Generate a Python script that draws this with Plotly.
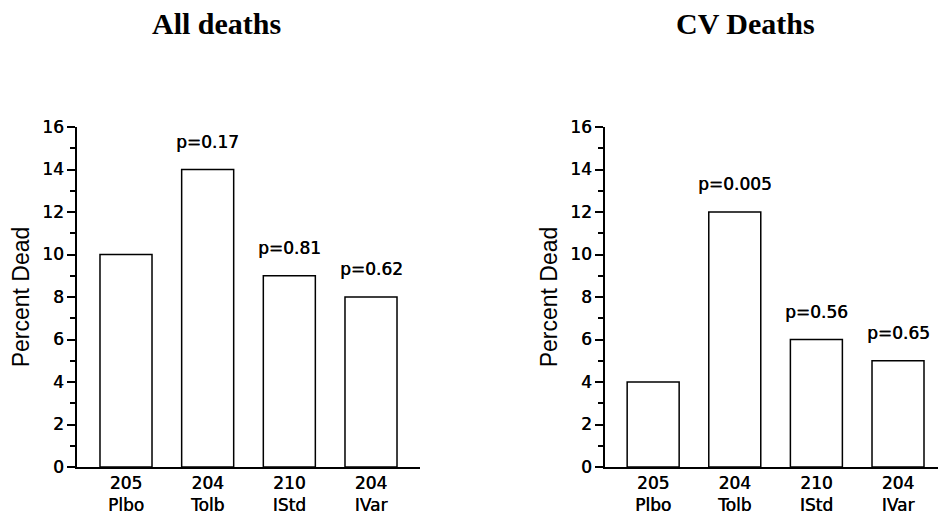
import plotly.graph_objects as go

groups = ["Plbo", "Tolb", "IStd", "IVar"]
n_patients = [205, 204, 210, 204]
all_deaths = [10, 14, 9, 8]
cv_deaths = [4, 12, 6, 5]
p_all = ["", "p=0.17", "p=0.81", "p=0.62"]
p_cv = ["", "p=0.005", "p=0.56", "p=0.65"]
titles = ["All deaths", "CV Deaths"]
y_title = "Percent Dead"

W, H = 938, 516
xpos = list(range(len(groups)))
ticktext = [f"{n}<br>{g}" for n, g in zip(n_patients, groups)]

fig = go.Figure()
for i, vals in enumerate([all_deaths, cv_deaths]):
    fig.add_trace(go.Bar(
        x=xpos, y=vals, width=0.637,
        marker=dict(color="white", line=dict(color="black", width=1.5)),
        xaxis="x" if i == 0 else "x2", yaxis="y" if i == 0 else "y2",
        showlegend=False, hoverinfo="skip",
    ))

tickfont = dict(family="DejaVu Sans", size=17, color="black", shadow="0.4px 0 0 black")
ydom = [1 - 467 / H, 1 - 127 / H]
common_x = dict(
    tickmode="array", tickvals=xpos, ticktext=ticktext, tickfont=tickfont,
    showline=True, linecolor="black", linewidth=1.5, ticks="", showgrid=False,
    zeroline=False, fixedrange=True, automargin=False,
)
common_y = dict(
    range=[0, 16], tickmode="linear", tick0=0, dtick=2, tickfont=tickfont,
    showline=True, linecolor="black", linewidth=1.5, ticks="outside",
    ticklen=8, tickwidth=1.5, tickcolor="black", showgrid=False, zeroline=False,
    minor=dict(dtick=1, ticks="outside", ticklen=5, tickwidth=1.5, tickcolor="black", showgrid=False),
    title=dict(text=y_title, font=dict(family="Liberation Sans", size=23, color="black"), standoff=6),
    domain=ydom, fixedrange=True, automargin=False,
)

fig.update_layout(
    width=W, height=H,
    margin=dict(l=0, r=0, t=0, b=0, autoexpand=False),
    paper_bgcolor="white", plot_bgcolor="white",
    xaxis=dict(common_x, domain=[77 / W, 420 / W], range=[-0.6, 3.6], anchor="y"),
    yaxis=dict(common_y, anchor="x"),
    xaxis2=dict(common_x, domain=[605 / W, 1.0], range=[-0.59, 3.49], anchor="y2"),
    yaxis2=dict(common_y, anchor="x2"),
)

annotations = []
for axn, vals, ps in [("", all_deaths, p_all), ("2", cv_deaths, p_cv)]:
    for x, v, p in zip(xpos, vals, ps):
        if p:
            annotations.append(dict(
                x=x, y=v, xref="x" + axn, yref="y" + axn, text=p, showarrow=False,
                yanchor="middle", yshift=28,
                font=dict(family="DejaVu Sans", size=17, color="black", shadow="0.4px 0 0 black"),
            ))
for t, cx in zip(titles, [216.5, 745.5]):
    annotations.append(dict(
        x=cx / W, y=1 - 24 / H, xref="paper", yref="paper", text=f"<b>{t}</b>",
        showarrow=False, xanchor="center", yanchor="middle",
        font=dict(family="Liberation Serif", size=30, color="black"),
    ))
fig.update_layout(annotations=annotations)

fig.write_html("out.html")
